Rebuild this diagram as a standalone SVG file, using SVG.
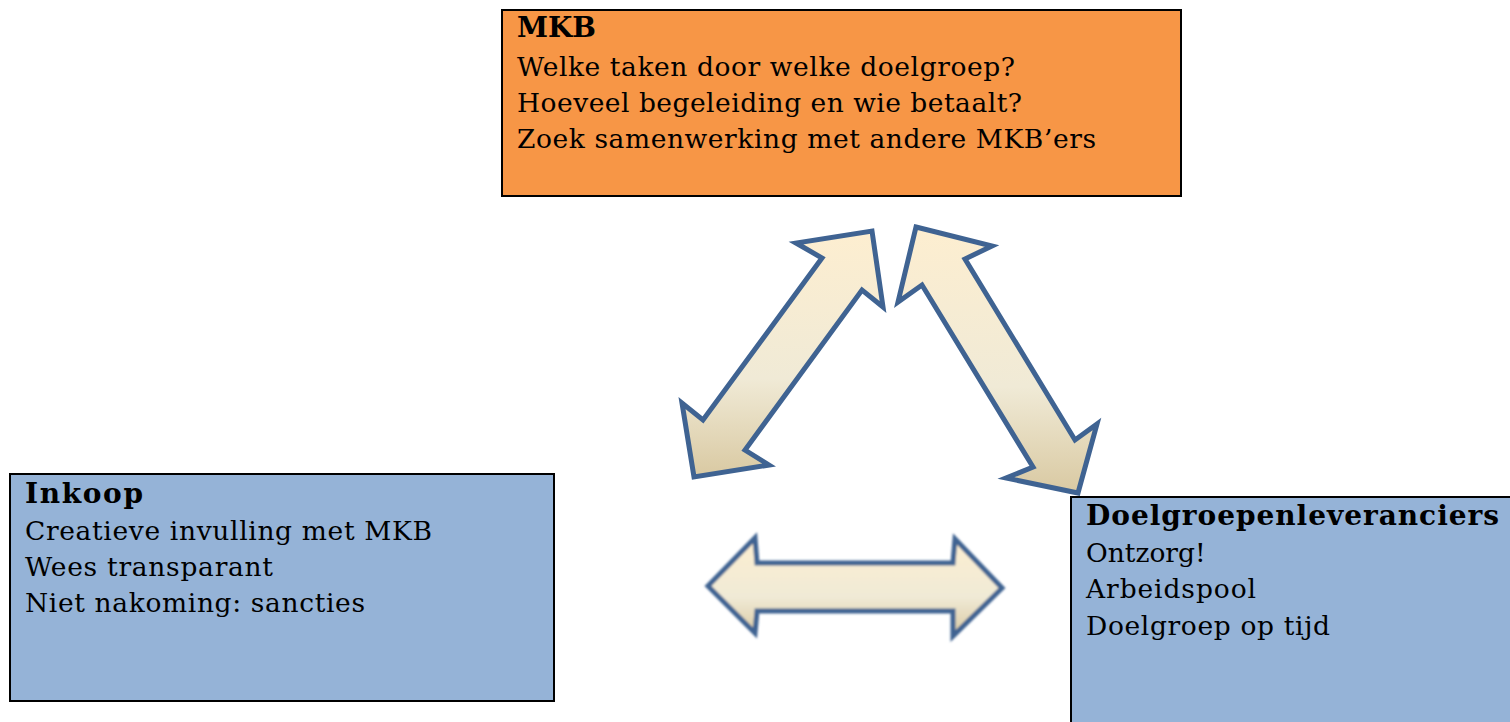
<svg xmlns="http://www.w3.org/2000/svg" width="1510" height="722" viewBox="0 0 1510 722">
  <style>
    .box { stroke: #000; stroke-width: 2; }
    .t { font-family: "DejaVu Serif", "Liberation Serif", serif; font-size: 26.5px; fill: #000; }
    .h { font-weight: bold; font-size: 28px; }
    .arrow { fill: url(#tan); stroke: #3F6392; stroke-width: 5; stroke-linejoin: miter; }
  </style>
  <defs>
    <linearGradient id="tan" x1="0" y1="0" x2="0" y2="1">
      <stop offset="0" stop-color="#FDEED0"/>
      <stop offset="0.6" stop-color="#F0EAD6"/>
      <stop offset="1" stop-color="#D9C9A2"/>
    </linearGradient>
    <filter id="soft" x="-5%" y="-10%" width="110%" height="120%">
      <feGaussianBlur stdDeviation="1.1"/>
    </filter>
  </defs>
  <rect width="1510" height="722" fill="#fff"/>

  <g id="mkb">
    <rect class="box" x="502" y="10" width="679" height="186" fill="#F79646"/>
    <text class="t h" x="517" y="37">MKB</text>
    <text class="t" x="517" y="76" textLength="498" lengthAdjust="spacing">Welke taken door welke doelgroep?</text>
    <text class="t" x="517" y="112" textLength="505" lengthAdjust="spacing">Hoeveel begeleiding en wie betaalt?</text>
    <text class="t" x="517" y="148" textLength="579" lengthAdjust="spacing">Zoek samenwerking met andere MKB’ers</text>
  </g>

  <g id="inkoop">
    <rect class="box" x="10" y="474" width="544" height="227" fill="#95B3D7"/>
    <text class="t h" x="25" y="503" textLength="118" lengthAdjust="spacing">Inkoop</text>
    <text class="t" x="25" y="540" textLength="407" lengthAdjust="spacing">Creatieve invulling met MKB</text>
    <text class="t" x="25" y="576" textLength="248" lengthAdjust="spacing">Wees transparant</text>
    <text class="t" x="25" y="612" textLength="340" lengthAdjust="spacing">Niet nakoming: sancties</text>
  </g>

  <g id="doelgroepenleveranciers">
    <rect class="box" x="1071" y="497" width="460" height="240" fill="#95B3D7"/>
    <text class="t h" x="1086" y="525" textLength="413" lengthAdjust="spacing">Doelgroepenleveranciers</text>
    <text class="t" x="1086" y="562">Ontzorg!</text>
    <text class="t" x="1086" y="598" textLength="170" lengthAdjust="spacing">Arbeidspool</text>
    <text class="t" x="1086" y="635" textLength="244" lengthAdjust="spacing">Doelgroep op tijd</text>
  </g>

  <g id="connectors">
    <polygon class="arrow" points="872,231 883,307 862,290 745,450 769,465 694,477 682,403 703,420 822,258 796,243"/>
    <polygon class="arrow" points="916,227 992,246 965,259 1075,440 1097,424 1078,493 1006,478 1033,467 922,285 898,302"/>
    <polygon class="arrow" filter="url(#soft)" points="708,586 755,538 757,563 953,563 955,539 1002,588 953,636 953,611 757,611 755,633"/>
  </g>
</svg>
